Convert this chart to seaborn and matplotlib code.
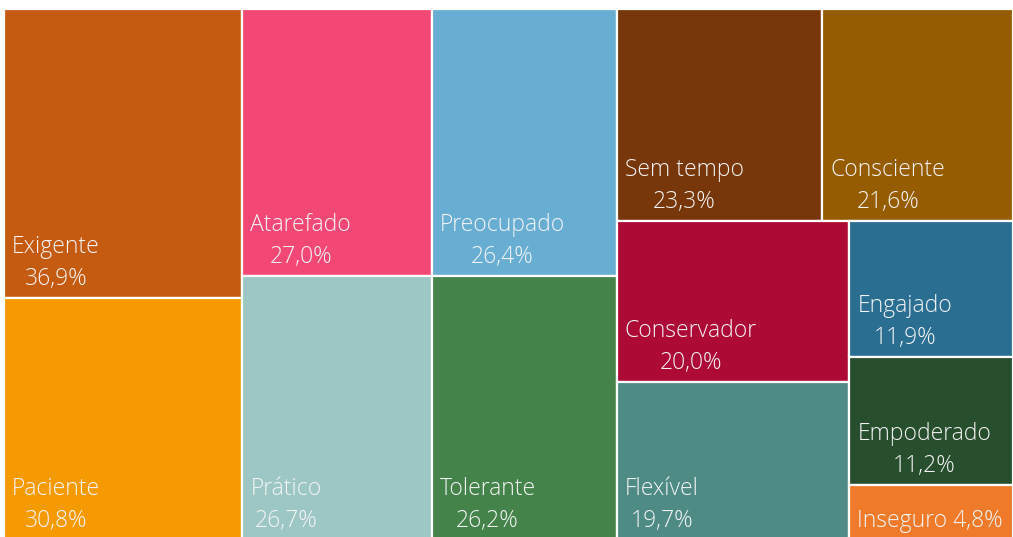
import matplotlib
matplotlib.use("Agg")
import matplotlib.pyplot as plt
from matplotlib.patches import Rectangle
import seaborn as sns

labels = ["Exigente", "Paciente", "Atarefado", "Prático", "Preocupado", "Tolerante",
          "Sem tempo", "Consciente", "Conservador", "Flexível", "Engajado",
          "Empoderado", "Inseguro"]
values = [36.9, 30.8, 27.0, 26.7, 26.4, 26.2, 23.3, 21.6, 20.0, 19.7, 11.9, 11.2, 4.8]
colors = ["#C55A11", "#F59A00", "#F34875", "#9DC7C4", "#68AED2", "#44834A",
          "#77370B", "#955D00", "#AD0A36", "#4D8B84", "#2A6F91", "#274E2D", "#EE7A2A"]


def layout_row(sizes, x, y, dx, dy):
    width = sum(sizes) / dy
    rects = []
    for s in sizes:
        rects.append((x, y, width, s / width))
        y += s / width
    return rects


def layout_col(sizes, x, y, dx, dy):
    height = sum(sizes) / dx
    rects = []
    for s in sizes:
        rects.append((x, y, s / height, height))
        x += s / height
    return rects


def layout(sizes, x, y, dx, dy):
    return layout_row(sizes, x, y, dx, dy) if dx >= dy else layout_col(sizes, x, y, dx, dy)


def leftover(sizes, x, y, dx, dy):
    covered = sum(sizes)
    if dx >= dy:
        w = covered / dy
        return x + w, y, dx - w, dy
    h = covered / dx
    return x, y + h, dx, dy - h


def worst(sizes, x, y, dx, dy):
    return max(max(r[2] / r[3], r[3] / r[2]) for r in layout(sizes, x, y, dx, dy))


def squarify(sizes, x, y, dx, dy):
    if not sizes:
        return []
    if len(sizes) == 1:
        return layout(sizes, x, y, dx, dy)
    i = 1
    while i < len(sizes) and worst(sizes[:i], x, y, dx, dy) >= worst(sizes[:i + 1], x, y, dx, dy):
        i += 1
    cur, rest = sizes[:i], sizes[i:]
    return layout(cur, x, y, dx, dy) + squarify(rest, *leftover(cur, x, y, dx, dy))


W, H = 1009.0, 531.0
total = sum(values)
norm = [v * W * H / total for v in values]
rects = squarify(norm, 0.0, 0.0, W, H)

sns.set_style("white")
plt.rcParams["font.family"] = ["Open Sans", "DejaVu Sans"]

fig = plt.figure(figsize=(10.13, 5.37), dpi=100)
# axes spans x 4..1013 px, y 9..540 px (slightly past bottom edge)
ax = fig.add_axes([4 / 1013, -3 / 537, W / 1013, H / 537])
ax.set_xlim(0, W)
ax.set_ylim(H, 0)
ax.axis("off")

tcol = "#F4F4F4"
fs = 16.5
for (x, y, w, h), lab, val, col in zip(rects, labels, values, colors):
    ax.add_patch(Rectangle((x, y), w, h, facecolor=col, edgecolor="white", linewidth=1.6))
    pct = f"{val:.1f}".replace(".", ",") + "%"
    if h < 80:
        ax.annotate(f"{lab} {pct}", xy=(x, y + h), xytext=(8, 13), textcoords="offset pixels",
                    ha="left", va="baseline", color=tcol, fontsize=fs, fontweight="light")
    else:
        name = ax.annotate(lab, xy=(x, y + h), xytext=(8, 45), textcoords="offset pixels",
                           ha="left", va="baseline", color=tcol, fontsize=fs, fontweight="light")
        ax.annotate(pct, xy=(0.5, 0), xycoords=name, xytext=(0, -32), textcoords="offset pixels",
                    ha="center", va="bottom", color=tcol, fontsize=fs, fontweight="light")

fig.savefig("out.png", dpi=100)
